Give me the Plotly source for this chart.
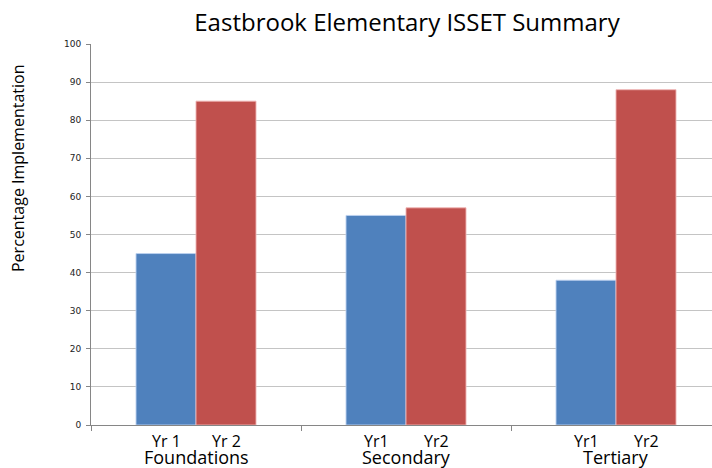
import plotly.graph_objects as go

categories = ["Foundations", "Secondary", "Tertiary"]
yr1_values = [45, 55, 38]
yr2_values = [85, 57, 88]
sub_labels_yr1 = ["Yr 1", "Yr1", "Yr1"]
sub_labels_yr2 = ["Yr 2", "Yr2", "Yr2"]
y_ticks = list(range(0, 101, 10))

FONT = "Open Sans"
BLUE = "#4F81BD"
RED = "#C0504D"

fig = go.Figure()
fig.add_trace(go.Bar(x=categories, y=yr1_values, name="Yr1",
                     marker=dict(color=BLUE, line=dict(color="rgba(190,210,240,0.9)", width=1))))
fig.add_trace(go.Bar(x=categories, y=yr2_values, name="Yr2",
                     marker=dict(color=RED, line=dict(color="rgba(240,180,180,0.9)", width=1))))

W, H = 712, 468
L, R, T, B = 91, 0, 44, 43
plot_w = W - L - R
plot_h = H - T - B
cat_px = 210.0
x_end = -0.5 + plot_w / cat_px
bar_off = 0.5 * (60.0 / cat_px)

annotations = []
for i in range(len(categories)):
    for lab, off in ((sub_labels_yr1[i], -bar_off), (sub_labels_yr2[i], bar_off)):
        annotations.append(dict(x=i + off, xref="x", y=-(441 - 425) / plot_h, yref="paper",
                                text=lab, showarrow=False, xanchor="center", yanchor="middle",
                                font=dict(family=FONT, size=16, color="#000000")))
    annotations.append(dict(x=i, xref="x", y=-(456.5 - 425) / plot_h, yref="paper",
                            text=categories[i], showarrow=False, xanchor="center", yanchor="middle",
                            font=dict(family=FONT, size=18, color="#000000")))

annotations.append(dict(x=-(L - 18) / plot_w, xref="paper", y=(425 - 168) / plot_h, yref="paper",
                        text="Percentage Implementation", textangle=-90, showarrow=False,
                        xanchor="center", yanchor="middle",
                        font=dict(family=FONT, size=16, color="#000000")))

fig.update_layout(
    width=W, height=H,
    margin=dict(l=L, r=R, t=T, b=B, pad=0, autoexpand=False),
    paper_bgcolor="white", plot_bgcolor="white",
    barmode="group", bargap=90 / 210, bargroupgap=0,
    showlegend=False,
    title=dict(text="Eastbrook Elementary ISSET Summary", x=407 / W, xanchor="center",
               y=1 - 23 / H, yanchor="middle", yref="container",
               font=dict(family=FONT, size=24, color="#000000")),
    annotations=annotations,
    font=dict(family=FONT),
)
fig.update_xaxes(type="category", range=[-0.5, x_end], showticklabels=False, automargin=False,
                 tickson="boundaries", ticks="outside", ticklen=5, tickcolor="#868686",
                 showline=True, linecolor="#868686", linewidth=1, showgrid=False, zeroline=False)
fig.update_yaxes(range=[0, 100], tickvals=y_ticks, ticks="outside", ticklen=4, tickcolor="#868686",
                 showline=True, linecolor="#868686", linewidth=1, automargin=False,
                 showgrid=True, gridcolor="#C4C4C4", gridwidth=1, zeroline=False,
                 tickfont=dict(family="DejaVu Sans", size=9, color="#222222"),
                 ticklabelstandoff=3)

fig.write_html("out.html", config={"displayModeBar": False},
               post_script="document.body.style.margin='0';document.body.style.padding='0';")
